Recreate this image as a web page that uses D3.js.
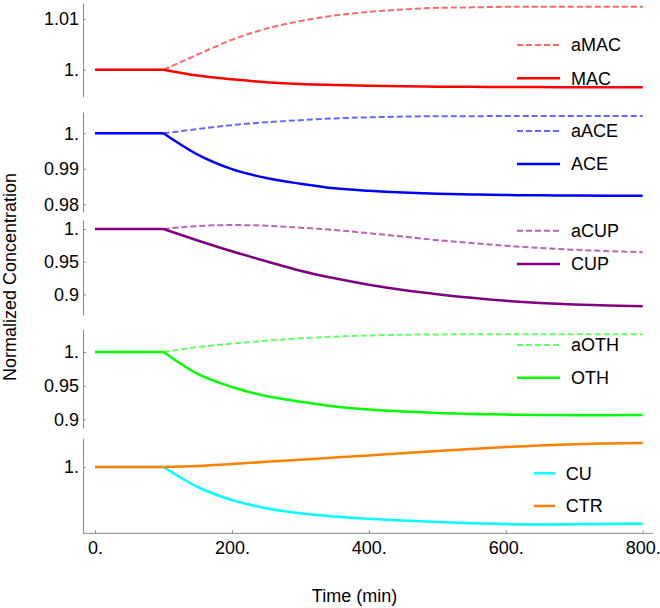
<!DOCTYPE html>
<html>
<head>
<meta charset="utf-8">
<script src="https://cdn.jsdelivr.net/npm/d3@7"></script>
<style>
  body { margin: 0; background: #fff; }
  text { font-family: "Liberation Sans", Arial, sans-serif; }
</style>
</head>
<body>
<div id="chart"></div>
<script>
// time points (min)
var time = [0, 50, 100, 150, 200, 250, 300, 350, 400, 450, 500, 550, 600, 650, 700, 750, 800];

// normalized concentrations
var amac = [1, 1, 1, 1.0030, 1.0059, 1.0081, 1.0096, 1.0107, 1.0114, 1.0119, 1.0122, 1.0123, 1.0124, 1.0124, 1.0124, 1.0124, 1.0124];
var mac  = [1, 1, 1, 0.99884, 0.9981, 0.99755, 0.99718, 0.99698, 0.99683, 0.99673, 0.99666, 0.99662, 0.99659, 0.99657, 0.99655, 0.99654, 0.99653];
var aace = [1, 1, 1, 1.0012, 1.0023, 1.0031, 1.0037, 1.0042, 1.0045, 1.0047, 1.0048, 1.0048, 1.0049, 1.0049, 1.0049, 1.0049, 1.0049];
var ace  = [1, 1, 1, 0.99398, 0.9899, 0.9874, 0.9858, 0.9845, 0.9838, 0.9833, 0.98297, 0.98276, 0.98261, 0.98252, 0.98246, 0.98242, 0.9824];
var acup = [1, 1, 1, 1.0045, 1.0060, 1.0050, 1.0020, 0.9985, 0.9935, 0.9885, 0.9830, 0.9785, 0.9745, 0.9710, 0.9683, 0.9662, 0.9646];
var cup  = [1, 1, 1, 0.9825, 0.9660, 0.9508, 0.9363, 0.9248, 0.9150, 0.9070, 0.9005, 0.8950, 0.8905, 0.8872, 0.8848, 0.8832, 0.8820];
var aoth = [1, 1, 1, 1.0072, 1.0125, 1.0168, 1.0203, 1.0228, 1.0246, 1.0256, 1.0261, 1.0263, 1.0263, 1.0263, 1.0263, 1.0263, 1.0263];
var oth  = [1, 1, 1, 0.9675, 0.9480, 0.9346, 0.9262, 0.9190, 0.9145, 0.9115, 0.9095, 0.9080, 0.9070, 0.9064, 0.9062, 0.9062, 0.9063];
var cu   = [1, 1, 1, 0.9800, 0.9670, 0.9588, 0.9537, 0.9505, 0.9482, 0.9465, 0.9450, 0.9438, 0.9430, 0.9425, 0.9427, 0.9430, 0.9433];
var ctr  = [1, 1, 1, 1.0010, 1.0029, 1.0052, 1.0073, 1.0094, 1.0116, 1.0138, 1.0160, 1.0181, 1.0200, 1.0215, 1.0227, 1.0235, 1.0240];

// tick labels
var xTicks = [0, 200, 400, 600, 800];
var yTicks1 = [1, 1.01];
var yTicks2 = [0.98, 0.99, 1];
var yTicks3 = [0.9, 0.95, 1];
var yTicks4 = [0.9, 0.95, 1];
var yTicks5 = [1];

var w = 660, h = 608;
var axisX = 83;
var axisColor = "#8a8a8a";

var svg = d3.select("#chart")
  .append("svg")
  .attr("width", w)
  .attr("height", h);

var xScale = d3.scaleLinear().domain([0, 800]).range([95, 642.7]);

// one entry per stacked panel
var panels = [
  { top: 3, bottom: 97, domain: [0.99462, 1.01316], ticks: yTicks1,
    series: [
      { name: "aMAC", values: amac, color: "#ff0000", dashed: true, ly: 45 },
      { name: "MAC", values: mac, color: "#ff0000", dashed: false, ly: 78.3 }
    ] },
  { top: 112, bottom: 212, domain: [0.97783, 1.0060], ticks: yTicks2,
    series: [
      { name: "aACE", values: aace, color: "#0000ff", dashed: true, ly: 131 },
      { name: "ACE", values: ace, color: "#0000ff", dashed: false, ly: 164 }
    ] },
  { top: 220, bottom: 315, domain: [0.8687, 1.01374], ticks: yTicks3,
    series: [
      { name: "aCUP", values: acup, color: "#800080", dashed: true, ly: 230.7 },
      { name: "CUP", values: cup, color: "#800080", dashed: false, ly: 264 }
    ] },
  { top: 329.3, bottom: 428, domain: [0.8871, 1.0337], ticks: yTicks4,
    series: [
      { name: "aOTH", values: aoth, color: "#00ff00", dashed: true, ly: 345 },
      { name: "OTH", values: oth, color: "#00ff00", dashed: false, ly: 377.7 }
    ] },
  { top: 438.3, bottom: 533.3, domain: [0.9337, 1.0287], ticks: yTicks5, shortLegend: true,
    series: [
      { name: "CU", values: cu, color: "#00ffff", dashed: false, ly: 473.3 },
      { name: "CTR", values: ctr, color: "#ff8000", dashed: false, ly: 506 }
    ] }
];

// Mathematica style numbers: "1." , "0.95", "200."
function fmt(v) {
  var s = d3.format(".2~f")(v);
  if (s.indexOf(".") < 0) s += ".";
  return s;
}

panels.forEach(function(p) {
  var yScale = d3.scaleLinear().domain(p.domain).range([p.bottom, p.top]);

  var yAxis = d3.axisLeft(yScale)
    .tickValues(p.ticks)
    .tickFormat(fmt)
    .tickSizeInner(-3)
    .tickSizeOuter(0)
    .tickPadding(4);

  var g = svg.append("g")
    .attr("transform", "translate(" + axisX + ",0)")
    .call(yAxis);
  g.select(".domain").attr("stroke", axisColor);
  g.selectAll(".tick line").attr("stroke", axisColor);
  g.selectAll(".tick text")
    .attr("fill", "#000")
    .style("font-size", "18px")
    .style("font-family", "'Liberation Sans', Arial, sans-serif");

  var line = d3.line()
    .x(function(d) { return xScale(d.t); })
    .y(function(d) { return yScale(d.v); });

  p.series.forEach(function(s) {
    var pts = time.map(function(t, i) { return { t: t, v: s.values[i] }; });
    var flat = pts.filter(function(d) { return d.t <= 100; });
    var rest = pts.filter(function(d) { return d.t >= 100; });
    [[flat, d3.curveLinear], [rest, d3.curveMonotoneX]].forEach(function(part) {
      svg.append("path")
        .datum(part[0])
        .attr("fill", "none")
        .attr("stroke", s.color)
        .attr("stroke-opacity", s.dashed ? 0.6 : 1)
        .attr("stroke-width", s.dashed ? 2 : 2.5)
        .attr("stroke-dasharray", s.dashed ? "6,3" : null)
        .attr("d", line.curve(part[1]));
    });

    // legend entry
    var lx0 = p.shortLegend ? 534 : 517;
    var lx1 = p.shortLegend ? 555 : 560;
    svg.append("line")
      .attr("x1", lx0).attr("x2", lx1)
      .attr("y1", s.ly).attr("y2", s.ly)
      .attr("stroke", s.color)
      .attr("stroke-opacity", s.dashed ? 0.6 : 1)
      .attr("stroke-width", s.dashed ? 2 : 2.5)
      .attr("stroke-dasharray", s.dashed ? "6,3" : null);
    svg.append("text")
      .attr("x", p.shortLegend ? 565.7 : 571)
      .attr("y", s.ly)
      .attr("dy", "0.35em")
      .style("font-size", "18px")
      .text(s.name);
  });
});

// bottom time axis
var xAxis = d3.axisBottom(xScale)
  .tickValues(xTicks)
  .tickFormat(fmt)
  .tickSizeInner(-3)
  .tickSizeOuter(0)
  .tickPadding(8);

var gx = svg.append("g")
  .attr("transform", "translate(0,533.3)")
  .call(xAxis);
gx.select(".domain").remove();
gx.selectAll(".tick line").attr("stroke", axisColor);
gx.selectAll(".tick text")
  .attr("fill", "#000")
  .style("font-size", "18px")
  .style("font-family", "'Liberation Sans', Arial, sans-serif");
gx.append("line")
  .attr("x1", axisX).attr("x2", 653)
  .attr("y1", 0).attr("y2", 0)
  .attr("stroke", axisColor);

// axis titles
svg.append("text")
  .attr("text-anchor", "middle")
  .attr("x", 354.5)
  .attr("y", 602)
  .style("font-size", "18px")
  .text("Time (min)");

svg.append("text")
  .attr("text-anchor", "middle")
  .attr("transform", "translate(16,277) rotate(-90)")
  .style("font-size", "18px")
  .text("Normalized Concentration");
</script>
</body>
</html>
